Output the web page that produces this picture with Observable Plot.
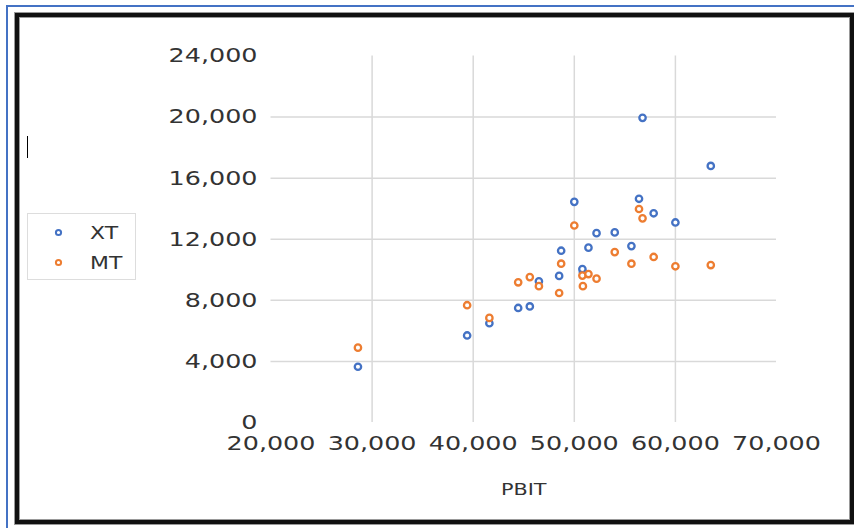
<!DOCTYPE html>
<html><head><meta charset="utf-8">
<script src="https://cdn.jsdelivr.net/npm/d3@7"></script>
<script src="https://cdn.jsdelivr.net/npm/@observablehq/plot@0.6"></script>
<style>
body{margin:0;background:#fff;width:854px;height:528px;overflow:hidden;position:relative;font-family:"DejaVu Sans",sans-serif}
#chart{position:absolute;left:0;top:0}
.blue{position:absolute;left:6px;top:5px;width:900px;height:600px;border-left:2px solid #4472C4;border-top:2px solid #4472C4}
.black{position:absolute;left:15px;top:13px;width:839px;height:511px;border:4px solid #111;box-sizing:border-box;box-shadow:0 0 0 1px #999, inset 0 0 0 1px #999}
.cursor{position:absolute;left:27px;top:136px;width:1px;height:22px;background:#000}
.legend{position:absolute;left:27px;top:213px;width:109px;height:67px;border:1px solid #ddd;box-sizing:border-box;background:#fff}
.legend svg{position:absolute;left:0;top:0}
</style>
</head><body>
<div class="blue"></div>
<div class="black"></div>
<div id="chart"></div>
<div class="cursor"></div>
<div class="legend" id="legend"></div>
<script>
const seriesNames = ["XT", "MT"];
const seriesColors = ["#4472C4", "#ED7D31"];
const pbit = [28600, 39400, 41600, 44450, 45600, 46500, 48500, 48700, 50000, 50850, 50800, 51400, 52200, 54000, 55650, 56400, 56750, 57850, 60000, 63500];
const xt   = [3650, 5700, 6500, 7500, 7600, 9250, 9600, 11250, 14450, 9850, 10050, 11450, 12400, 12450, 11550, 14650, 19950, 13700, 13100, 16800];
const mt   = [4900, 7680, 6850, 9180, 9520, 8930, 8480, 10400, 12900, 8930, 9620, 9720, 9420, 11160, 10400, 13980, 13370, 10840, 10230, 10310];
const xTicks = [20000, 30000, 40000, 50000, 60000, 70000];
const yTicks = [0, 4000, 8000, 12000, 16000, 20000, 24000];
const xGrid = [30000, 40000, 50000, 60000];
const yGrid = [4000, 8000, 12000, 16000, 20000];
const xTitle = "PBIT";

const rows = [];
pbit.forEach((p, i) => rows.push({pbit: p, value: xt[i], series: seriesNames[0]}));
pbit.forEach((p, i) => rows.push({pbit: p, value: mt[i], series: seriesNames[1]}));

const fmt = d3.format(",");
const chart = Plot.plot({
  width: 854, height: 528,
  marginLeft: 270.5, marginRight: 78, marginTop: 55.5, marginBottom: 106,
  x: {domain: [20000, 70000]},
  y: {domain: [0, 24000]},
  color: {domain: seriesNames, range: seriesColors},
  style: {fontFamily: "DejaVu Sans", background: "transparent", color: "#333"},
  marks: [
    Plot.gridX(xGrid, {stroke: "#d9d9d9", strokeOpacity: 1, strokeWidth: 1.5}),
    Plot.gridY(yGrid, {stroke: "#d9d9d9", strokeOpacity: 1, strokeWidth: 1.5}),
    Plot.axisX(xTicks, {tickSize: 0, tickPadding: 13, tickFormat: fmt, fontSize: 20, label: null}),
    Plot.axisY(yTicks, {tickSize: 0, tickPadding: 13.5, tickFormat: fmt, fontSize: 20, label: null}),
    Plot.dot(rows, {x: "pbit", y: "value", stroke: "series", fill: "white", r: 3.2, strokeWidth: 2.3}),
    Plot.text([xTitle], {frameAnchor: "bottom", dy: 72, fontSize: 16, fill: "#333"})
  ]
});
document.getElementById("chart").appendChild(chart);

function stretch(t, s) {
  const xa = t.getAttribute("x");
  const x = xa != null && isFinite(+xa) ? +xa : 0;
  if (xa != null && isFinite(+xa)) t.removeAttribute("x");
  const tr = t.getAttribute("transform") || "";
  t.setAttribute("transform", `${tr} translate(${x},0) scale(${s},1)`);
}
chart.querySelectorAll('g[aria-label="x-axis tick label"] text, g[aria-label="y-axis tick label"] text').forEach(t => stretch(t, 1.27));
chart.querySelectorAll('g[aria-label="text"] text').forEach(t => stretch(t, 1.3));

// legend
const leg = d3.select("#legend").append("svg").attr("width", 107).attr("height", 65);
seriesNames.forEach((name, i) => {
  const cy = 18.5 + i * 30;
  leg.append("circle").attr("cx", 30.5).attr("cy", cy).attr("r", 2.6)
    .attr("fill", "white").attr("stroke", seriesColors[i]).attr("stroke-width", 2);
  const t = leg.append("text").attr("dy", "0.35em")
    .attr("font-size", 18).attr("fill", "#333")
    .attr("font-family", "DejaVu Sans").text(name);
  t.attr("transform", `translate(62,${cy}) scale(1.22,1)`);
});
</script>
</body></html>
